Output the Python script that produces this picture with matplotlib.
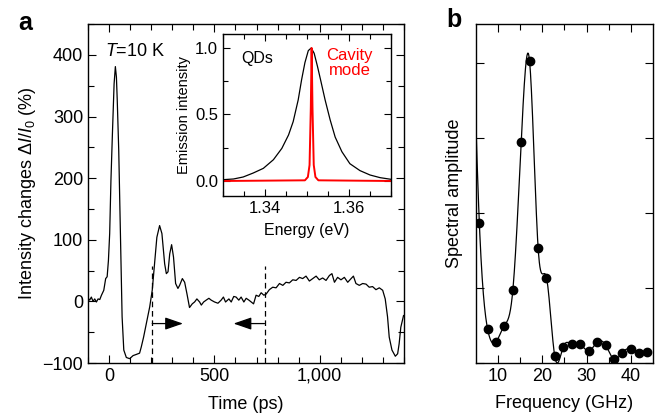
import numpy as np
import matplotlib
matplotlib.use("Agg")
import matplotlib.pyplot as plt
from matplotlib.ticker import MultipleLocator

plt.rcParams['font.family'] = ['Liberation Sans', 'DejaVu Sans']
plt.rcParams['mathtext.fontset'] = 'custom'
plt.rcParams['mathtext.rm'] = 'Liberation Sans'
plt.rcParams['mathtext.it'] = 'Liberation Sans:italic'

# ---- panel a: time trace (ps, %) ----
time_ps = [-99, -92, -84, -76, -68, -60, -52, -44, -36, -25, -16, -9, -3, 3, 9, 16, 24,
           30, 35, 39, 46, 54, 62, 70, 82, 98, 114, 130, 145, 153, 164, 177, 193, 205,
           216, 227, 240, 251, 264, 272, 280, 288, 297, 306, 316, 327, 335, 348, 359,
           370, 382, 395, 406, 417, 430, 438, 449, 461, 474, 485, 501, 517, 532, 543,
           553, 569, 580, 592, 603, 616, 627, 640, 651, 664, 675, 686, 698, 711, 722,
           735, 746, 761, 777, 793, 809, 825, 840, 856, 872, 888, 904, 919, 935, 951,
           967, 983, 998, 1014, 1030, 1046, 1058, 1070, 1085, 1101, 1117, 1133, 1149,
           1160, 1172, 1188, 1204, 1220, 1235, 1251, 1267, 1283, 1299, 1311, 1322,
           1330, 1343, 1359, 1370, 1377, 1385, 1398]
change_pct = [5, 2, 7, 0, 4, -1, 4, 3, 10, 18, 37, 40, 66, 110, 196, 272, 353,
              381, 364, 326, 245, 110, -25, -79, -91, -93, -88, -86, -84, -74, -58, -36,
              -9, 18, 61, 104, 123, 110, 61, 45, 48, 77, 92, 72, 29, 21, 26, 37, 31,
              12, -10, -4, -1, 4, -1, -6, -1, 2, 5, 2, -1, -3, 2, 7,
              -1, 4, -1, 8, 7, 2, 7, -1, 5, 2, -1, -4, 10, 8, 14,
              10, 12, 19, 23, 22, 29, 26, 31, 30, 35, 34, 39, 37, 41, 33,
              37, 41, 35, 38, 34, 42, 45, 31, 39, 35, 39, 31, 37,
              41, 29, 26, 29, 28, 23, 24, 19, 22, 18, 4, -25,
              -58, -79, -89, -85, -69, -42, -23]
window_ps = [205, 738]
arrow_tips_ps = [351, 591]
time_ticks = [0, 500, 1000]
time_ticklabels = ['0', '500', '1,000']

# ---- inset: emission spectra ----
qd_energy = [1.3301, 1.3325, 1.3348, 1.3372, 1.3396, 1.3420, 1.3440, 1.3456, 1.3467,
             1.3479, 1.3487, 1.3495, 1.3503, 1.3510, 1.3517, 1.3525, 1.3533, 1.3543,
             1.3555, 1.3567, 1.3583, 1.3602, 1.3626, 1.3650, 1.3674, 1.3699]
qd_intensity = [0.01, 0.015, 0.03, 0.06, 0.095, 0.16, 0.245, 0.346, 0.446,
                0.61, 0.76, 0.89, 0.98, 1.0, 0.96, 0.86, 0.75, 0.61,
                0.46, 0.33, 0.22, 0.13, 0.078, 0.045, 0.025, 0.013]
cav_energy = [1.33, 1.3495, 1.3502, 1.3506, 1.3509, 1.3511, 1.3513, 1.3516, 1.3520, 1.3527, 1.37]
cav_intensity = [0.0, 0.005, 0.03, 0.12, 0.55, 1.0, 0.55, 0.12, 0.03, 0.005, 0.0]

# ---- panel b: spectrum ----
freq_ghz = [4.0, 5.88, 7.75, 9.62, 11.49, 13.43, 15.30, 17.17, 19.11, 20.98, 22.85,
            24.79, 26.66, 28.53, 30.47, 32.41, 34.28, 36.15, 38.02, 39.89, 41.76, 43.70]
amplitude = [5.6, 1.87, 0.45, 0.28, 0.50, 0.98, 2.95, 4.03, 1.53, 1.14, 0.09, 0.22, 0.25,
             0.25, 0.16, 0.28, 0.24, 0.05, 0.14, 0.19, 0.14, 0.15]


def natural_spline(x, y, n=600):
    x = np.asarray(x, float)
    y = np.asarray(y, float)
    h = np.diff(x)
    m = len(x)
    A = np.zeros((m, m))
    r = np.zeros(m)
    A[0, 0] = A[-1, -1] = 1
    for i in range(1, m - 1):
        A[i, i - 1] = h[i - 1]
        A[i, i] = 2 * (h[i - 1] + h[i])
        A[i, i + 1] = h[i]
        r[i] = 3 * ((y[i + 1] - y[i]) / h[i] - (y[i] - y[i - 1]) / h[i - 1])
    c = np.linalg.solve(A, r)
    xs = np.linspace(x[0], x[-1], n)
    k = np.clip(np.searchsorted(x, xs) - 1, 0, m - 2)
    d = xs - x[k]
    b = (y[k + 1] - y[k]) / h[k] - h[k] * (2 * c[k] + c[k + 1]) / 3
    dd = (c[k + 1] - c[k]) / (3 * h[k])
    return xs, y[k] + b * d + c[k] * d ** 2 + dd * d ** 3


def style(ax, size):
    ax.tick_params(which='both', direction='in', top=True, right=True,
                   labelsize=size, width=0.8)
    ax.tick_params(which='major', length=5.5)
    ax.tick_params(which='minor', length=4)
    for s in ax.spines.values():
        s.set_linewidth(1.0)


fig = plt.figure(figsize=(6.59, 4.20), dpi=100)

# panel a
ax = fig.add_axes([0.1335, 0.1357, 0.4795, 0.807])
ax.plot(time_ps, change_pct, color='k', lw=0.9)
ax.set_xlim(-100, 1400)
ax.set_ylim(-100, 450)
ax.set_xticks(time_ticks)
ax.set_xticklabels(time_ticklabels)
ax.set_yticks([-100, 0, 100, 200, 300, 400])
ax.xaxis.set_minor_locator(MultipleLocator(100))
ax.yaxis.set_minor_locator(MultipleLocator(50))
style(ax, 13)
ax.set_xlabel('Time (ps)', fontsize=13, labelpad=8)
ax.set_ylabel(r'Intensity changes $\Delta I/I_0$ (%)', fontsize=13, labelpad=3)
for t in window_ps:
    ax.plot([t, t], [-100, 58], color='k', lw=0.9, dashes=(4.5, 3))
arrow = dict(arrowstyle='-|>,head_length=1.1,head_width=0.38', color='k', lw=0.9,
             shrinkA=0, shrinkB=0)
for t0, t1 in zip(window_ps, arrow_tips_ps):
    ax.annotate('', xy=(t1, -36), xytext=(t0, -36), arrowprops=arrow)
ax.text(-20, 405, r'$T$=10 K', fontsize=13, va='center', ha='left')
fig.text(0.027, 1 - 30 / 420, 'a', fontsize=18, fontweight='bold', va='baseline')

# inset
ins = fig.add_axes([0.3384, 0.5333, 0.255, 0.3857])
ins.plot(qd_energy, qd_intensity, color='k', lw=0.9)
ins.plot(cav_energy, cav_intensity, color='#ff0000', lw=1.4)
ins.set_xlim(1.33, 1.37)
ins.set_ylim(-0.113, 1.105)
ins.set_xticks([1.34, 1.36])
ins.set_yticks([0.0, 0.5, 1.0])
ins.set_yticklabels(['0.0', '0.5', '1.0'])
ins.xaxis.set_minor_locator(MultipleLocator(0.005))
ins.yaxis.set_minor_locator(MultipleLocator(0.25))
style(ins, 12)
ins.tick_params(which='major', length=5)
ins.tick_params(which='minor', length=3.5)
ins.set_xlabel('Energy (eV)', fontsize=11.5, labelpad=5)
ins.set_ylabel('Emission intensity', fontsize=10.5, labelpad=3)
ins.text(1.3343, 0.92, 'QDs', fontsize=11.5, va='center', ha='left')
ins.text(1.3601, 0.89, 'Cavity\nmode', fontsize=12, color='#ff0000', va='center',
         ha='center', linespacing=1.0)

# panel b
bx = fig.add_axes([0.7223, 0.1357, 0.2681, 0.807])
sx, sy = natural_spline(freq_ghz, amplitude)
bx.plot(sx, sy, color='k', lw=0.9)
bx.plot(freq_ghz[1:], amplitude[1:], 'o', color='k', ms=6)
bx.set_xlim(5.13, 44.87)
bx.set_ylim(0, 4.52)
bx.set_xticks([10, 20, 30, 40])
bx.set_yticks([0, 1, 2, 3, 4])
bx.set_yticklabels([])
bx.xaxis.set_minor_locator(MultipleLocator(5))
style(bx, 13)
bx.set_xlabel('Frequency (GHz)', fontsize=13, labelpad=7)
bx.set_ylabel('Spectral amplitude', fontsize=13, labelpad=6)
fig.text(0.678, 1 - 27 / 420, 'b', fontsize=18, fontweight='bold', va='baseline')

fig.savefig('out.png', dpi=100)
